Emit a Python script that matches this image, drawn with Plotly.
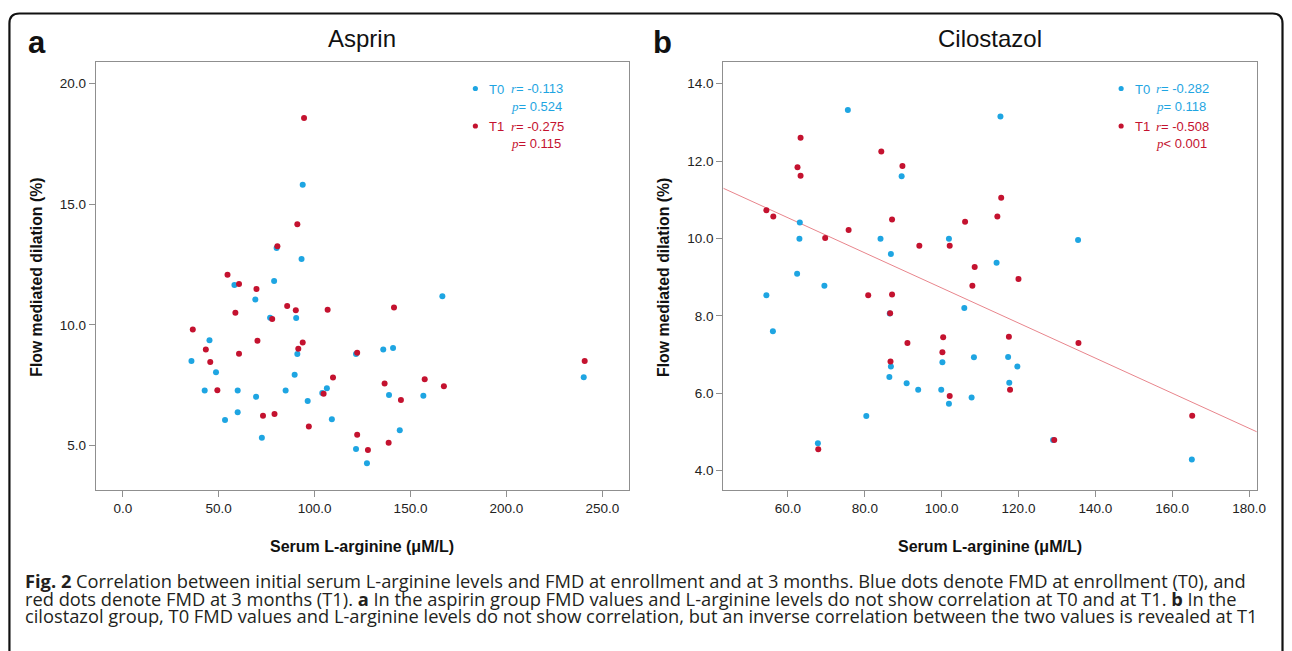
import numpy as np
import plotly.graph_objects as go

W, H = 1292, 651

# ---------------- data ----------------
# Panel a: Asprin
a_t0_x = [93.8, 80.2, 93.2, 58.2, 78.9, 69.1, 166.6, 76.8, 90.4, 45.2, 91.0, 121.6, 135.8, 140.9,
          35.8, 48.6, 89.6, 240.3, 42.7, 59.9, 84.9, 106.4, 104.0, 69.5, 138.8, 156.7, 96.4, 59.9,
          53.3, 109.0, 144.4, 72.5, 121.6, 127.3]
a_t0_y = [15.81, 13.19, 12.73, 11.66, 11.82, 11.06, 11.19, 10.30, 10.29, 9.37, 8.80, 8.80, 8.98, 9.05,
          8.51, 8.04, 7.94, 7.83, 7.28, 7.28, 7.28, 7.38, 7.18, 7.02, 7.10, 7.07, 6.85, 6.38,
          6.06, 6.09, 5.64, 5.33, 4.86, 4.27]
a_t1_x = [94.5, 91.0, 80.6, 54.6, 60.6, 69.7, 85.7, 58.7, 90.2, 106.8, 141.4, 77.9, 36.5, 70.2,
          93.8, 43.3, 91.5, 60.6, 122.2, 45.6, 240.8, 109.6, 157.4, 167.4, 136.5, 49.3, 104.7, 145.0,
          73.1, 79.1, 97.0, 122.2, 138.6, 127.8]
a_t1_y = [18.58, 14.17, 13.26, 12.08, 11.70, 11.49, 10.79, 10.51, 10.61, 10.63, 10.72, 10.25, 9.81, 9.35,
          9.27, 8.98, 9.01, 8.81, 8.85, 8.47, 8.51, 7.82, 7.75, 7.46, 7.57, 7.29, 7.15, 6.89,
          6.24, 6.31, 5.79, 5.45, 5.12, 4.82]

# Panel b: Cilostazol
b_t0_x = [75.6, 115.3, 89.6, 63.1, 63.0, 84.1, 101.9, 135.5, 86.8, 114.3, 62.4, 69.5, 54.4, 86.5,
          105.9, 56.1, 86.8, 100.2, 108.4, 117.3, 119.7, 86.4, 90.9, 117.6, 93.9, 99.9, 107.8, 101.9,
          80.4, 67.8, 129.0, 165.1]
b_t0_y = [13.32, 13.15, 11.61, 10.41, 9.99, 9.99, 9.99, 9.96, 9.60, 9.37, 9.09, 8.78, 8.53, 8.06,
          8.20, 7.60, 6.69, 6.80, 6.93, 6.94, 6.69, 6.42, 6.26, 6.27, 6.09, 6.09, 5.89, 5.73,
          5.41, 4.71, 4.79, 4.29]
b_t1_x = [63.3, 84.3, 62.5, 89.8, 63.3, 115.5, 54.4, 56.2, 114.5, 87.1, 106.1, 75.8, 69.7, 94.2,
          102.1, 108.6, 120.0, 108.0, 80.9, 87.1, 86.6, 100.4, 117.5, 91.1, 135.6, 100.2, 86.7, 117.8,
          102.1, 165.2, 67.9, 129.3]
b_t1_y = [12.60, 12.25, 11.84, 11.87, 11.62, 11.05, 10.73, 10.57, 10.57, 10.49, 10.43, 10.22, 10.01, 9.81,
          9.81, 9.26, 8.95, 8.78, 8.53, 8.55, 8.07, 7.45, 7.46, 7.30, 7.30, 7.06, 6.82, 6.09,
          5.93, 5.42, 4.55, 4.79]

# tick values
a_xticks = [0, 50, 100, 150, 200, 250]
a_yticks = [5, 10, 15, 20]
b_xticks = [60, 80, 100, 120, 140, 160, 180]
b_yticks = [4, 6, 8, 10, 12, 14]

# statistics text
a_stats = {"T0": ("-0.113", "= 0.524"), "T1": ("-0.275", "= 0.115")}
b_stats = {"T0": ("-0.282", "= 0.118"), "T1": ("-0.508", "< 0.001")}

panel_titles = ["Asprin", "Cilostazol"]
panel_letters = ["a", "b"]
x_title = "Serum L-arginine (μM/L)"
y_title = "Flow mediated dilation (%)"

caption_lines = [
    "<b>Fig. 2</b> Correlation between initial serum L-arginine levels and FMD at enrollment and at 3 months. Blue dots denote FMD at enrollment (T0), and",
    "red dots denote FMD at 3 months (T1). <b>a</b> In the aspirin group FMD values and L-arginine levels do not show correlation at T0 and at T1. <b>b</b> In the",
    "cilostazol group, T0 FMD values and L-arginine levels do not show correlation, but an inverse correlation between the two values is revealed at T1",
]

# ---------------- style ----------------
BLUE = "#1ea5e2"
RED = "#c4122f"
LINE_RED = "#e8858c"
AXC = "#8f8f8f"
SANS = "Arial, Liberation Sans, sans-serif"
SERIF = "Liberation Serif, Times New Roman, serif"

def X(px):
    return px / W

def Y(py):
    return 1 - py / H

a_xrange = [-14.1, 264.0]
a_yrange = [3.16, 20.9]
b_xrange = [43.2, 182.0]
b_yrange = [3.50, 14.56]

fig = go.Figure()

mk = dict(size=6, line=dict(width=0))
fig.add_trace(go.Scatter(x=a_t0_x, y=a_t0_y, mode="markers", marker=dict(color=BLUE, **mk),
                         xaxis="x", yaxis="y", showlegend=False))
fig.add_trace(go.Scatter(x=a_t1_x, y=a_t1_y, mode="markers", marker=dict(color=RED, **mk),
                         xaxis="x", yaxis="y", showlegend=False))

# regression line for T1 in cilostazol group
slope, intercept = np.polyfit(np.array(b_t1_x), np.array(b_t1_y), 1)
lx = np.array(b_xrange)
fig.add_trace(go.Scatter(x=lx, y=intercept + slope * lx, mode="lines",
                         line=dict(color=LINE_RED, width=1), xaxis="x2", yaxis="y2",
                         showlegend=False, cliponaxis=True))
fig.add_trace(go.Scatter(x=b_t0_x, y=b_t0_y, mode="markers", marker=dict(color=BLUE, **mk),
                         xaxis="x2", yaxis="y2", showlegend=False))
fig.add_trace(go.Scatter(x=b_t1_x, y=b_t1_y, mode="markers", marker=dict(color=RED, **mk),
                         xaxis="x2", yaxis="y2", showlegend=False))

ax_common = dict(showline=True, linecolor=AXC, linewidth=1, mirror=True, ticks="outside",
                 ticklen=6, tickcolor=AXC, tickwidth=1, showgrid=False, zeroline=False,
                 tickfont=dict(family=SANS, size=13.5, color="#222"), tickformat=".1f")

ydom = [Y(490), Y(62)]
fig.update_layout(
    width=W, height=H, margin=dict(l=0, r=0, t=0, b=0),
    paper_bgcolor="white", plot_bgcolor="white",
    xaxis=dict(domain=[X(96.4), X(633.6)], range=a_xrange, tickvals=a_xticks, anchor="y", **ax_common),
    yaxis=dict(domain=ydom, range=a_yrange, tickvals=a_yticks, anchor="x", **ax_common),
    xaxis2=dict(domain=[X(728.4), X(1265.6)], range=b_xrange, tickvals=b_xticks, anchor="y2", **ax_common),
    yaxis2=dict(domain=ydom, range=b_yrange, tickvals=b_yticks, anchor="x2", **ax_common),
)

ann = []
shapes = []

# panel letters and titles
for letter, lx_, title, tx in zip(panel_letters, [37, 667.5], panel_titles, [364.6, 997]):
    ann.append(dict(text=f"<b>{letter}</b>", x=X(lx_), y=Y(42.5), xref="paper", yref="paper",
                    showarrow=False, xanchor="center", yanchor="middle",
                    font=dict(family=SANS, size=31, color="#111")))
    ann.append(dict(text=title, x=X(tx), y=Y(38.5), xref="paper", yref="paper",
                    showarrow=False, xanchor="center", yanchor="middle",
                    font=dict(family=SANS, size=24, color="#111")))
    # axis titles
    ann.append(dict(text=f"<b>{x_title}</b>", x=X(tx), y=Y(546.5), xref="paper", yref="paper",
                    showarrow=False, xanchor="center", yanchor="middle",
                    font=dict(family=SANS, size=16, color="#111")))

for yx in [36, 667.6]:
    ann.append(dict(text=f"<b>{y_title}</b>", x=X(yx), y=Y(277), xref="paper", yref="paper",
                    showarrow=False, xanchor="center", yanchor="middle", textangle=-90,
                    font=dict(family=SANS, size=15.8, color="#111")))

# stats legends
def legend(stats, dot_x, lab_x, r_x):
    rows = [("T0", BLUE, 88.5), ("T1", RED, 126)]
    for key, col, yy in rows:
        rv, pv = stats[key]
        shapes.append(dict(type="circle", xref="paper", yref="paper",
                           x0=X(dot_x - 2.6), x1=X(dot_x + 2.6), y0=Y(yy + 2.6), y1=Y(yy - 2.6),
                           fillcolor=col, line=dict(width=0)))
        ann.append(dict(text=key, x=X(lab_x), y=Y(yy + 0.5), xref="paper", yref="paper",
                        showarrow=False, xanchor="left", yanchor="middle",
                        font=dict(family=SANS, size=13, color=col)))
        ann.append(dict(text=f"<span style='font-family:{SERIF}'><i>r</i></span>= {rv}",
                        x=X(r_x), y=Y(yy), xref="paper", yref="paper",
                        showarrow=False, xanchor="left", yanchor="middle",
                        font=dict(family=SANS, size=13, color=col)))
        ann.append(dict(text=f"<span style='font-family:{SERIF}'><i>p</i></span>{pv}",
                        x=X(r_x), y=Y(yy + 17.5), xref="paper", yref="paper",
                        showarrow=False, xanchor="left", yanchor="middle",
                        font=dict(family=SANS, size=13, color=col)))

legend(a_stats, 478.7, 490.5, 512.5)
legend(b_stats, 1129.0, 1141.0, 1162.0)

# caption
for line, yy in zip(caption_lines, [580.9, 598.2, 615.5]):
    ann.append(dict(text=line, x=X(23), y=Y(yy), xref="paper", yref="paper",
                    showarrow=False, xanchor="left", yanchor="middle",
                    font=dict(family="Open Sans, sans-serif", size=18.3, color="#231f20")))

# rounded frame
L, T, R, B, rr = 9.5, 13.5, 1291.5, 720, 10
path = (f"M {X(L)},{Y(B)} L {X(L)},{Y(T + rr)} Q {X(L)},{Y(T)} {X(L + rr)},{Y(T)} "
        f"L {X(R - rr)},{Y(T)} Q {X(R)},{Y(T)} {X(R)},{Y(T + rr)} L {X(R)},{Y(B)}")
shapes.append(dict(type="path", path=path, xref="paper", yref="paper",
                   line=dict(color="#111", width=2.2)))

fig.update_layout(annotations=ann, shapes=shapes)

fig.write_html("out.html", config={"displayModeBar": False},
               post_script="document.body.style.margin='0';document.body.style.overflow='hidden';")
